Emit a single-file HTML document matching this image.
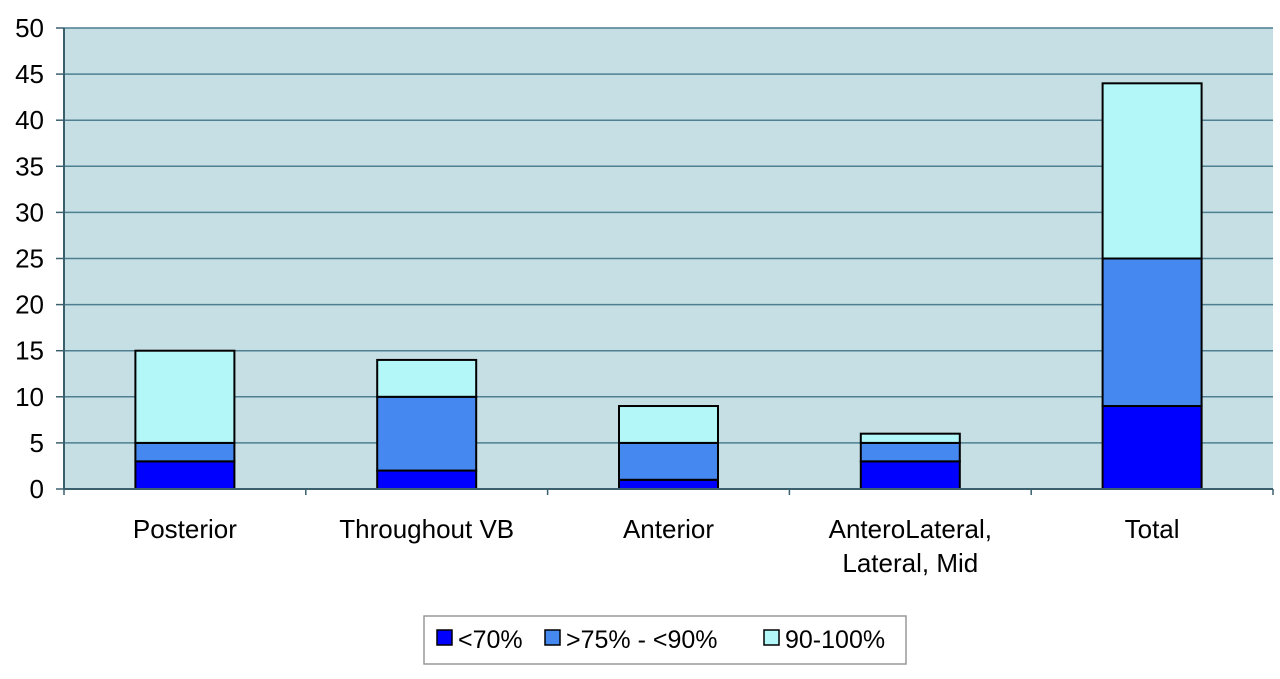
<!DOCTYPE html>
<html><head><meta charset="utf-8"><style>
body{margin:0;background:#fff;}
svg text{font-family:"Liberation Sans",sans-serif;fill:#000;}
</style></head><body>
<svg width="1280" height="674" xmlns="http://www.w3.org/2000/svg" id="chart">
<rect x="64" y="28" width="1209" height="461" fill="#c6dfe5"/>
<g id="grid"></g><g id="bars"></g><g id="axes"></g>
<g>
<rect x="424" y="616" width="482" height="48" fill="#fff" stroke="#999" stroke-width="1.5"/>
<rect x="437" y="630" width="15" height="15" fill="#0000ff" stroke="#000" stroke-width="1.5"/>
<text x="458" y="648" font-size="25">&lt;70%</text>
<rect x="545" y="630" width="15" height="15" fill="#4488f0" stroke="#000" stroke-width="1.5"/>
<text x="566" y="648" font-size="25">&gt;75% - &lt;90%</text>
<rect x="764" y="630" width="15" height="15" fill="#b3f7f9" stroke="#000" stroke-width="1.5"/>
<text x="785" y="648" font-size="25">90-100%</text>
</g>
</svg>
<script>
const categories=[["Posterior"],["Throughout VB"],["Anterior"],["AnteroLateral,","Lateral, Mid"],["Total"]];
const lt70=[3,2,1,3,9];
const mid=[2,8,4,2,16];
const high=[10,4,4,1,19];
const yTicks=[0,5,10,15,20,25,30,35,40,45,50];
const NS="http://www.w3.org/2000/svg";
const L=64,R=1273,T=28,B=489,yMax=50;
const y=v=>B-(v/yMax)*(B-T);
const band=(R-L)/categories.length;
const xc=i=>L+band*(i+0.5);
function mk(tag,attrs,parent){const e=document.createElementNS(NS,tag);for(const k in attrs)e.setAttribute(k,attrs[k]);parent.appendChild(e);return e;}
const grid=document.getElementById('grid'),bars=document.getElementById('bars'),axes=document.getElementById('axes');
yTicks.forEach(t=>{
 if(t>0){const g=mk('line',{x1:L,x2:R,y1:y(t),y2:y(t),stroke:'#4d7f90','stroke-width':1.5},grid);
 
 }
 mk('line',{x1:56,x2:L,y1:y(t),y2:y(t),stroke:'#3a5f6d','stroke-width':1.5},axes);
 const tx=mk('text',{x:44,y:y(t)+9,'font-size':26,'text-anchor':'end'},axes);tx.textContent=t;
 
 
});
const ax=mk('line',{x1:L,x2:L,y1:T,y2:B,stroke:'#3a5f6d','stroke-width':2},axes);


const bx=mk('line',{x1:L,x2:R,y1:B,y2:B,stroke:'#3a5f6d','stroke-width':2},axes);


for(let i=0;i<=categories.length;i++)mk('line',{x1:L+band*i,x2:L+band*i,y1:B,y2:B+6,stroke:'#3a5f6d','stroke-width':1.5},axes);
const series=[[lt70,'#0000ff','lt70'],[mid,'#4488f0','75-90'],[high,'#b3f7f9','90-100']];
const bw=99;
categories.forEach((c,i)=>{
 let base=0;
 series.forEach(([arr,col,nm])=>{
  const v=arr[i];
  const r=mk('rect',{x:xc(i)-bw/2,y:y(base+v),width:bw,height:y(base)-y(base+v),fill:col,stroke:'#000','stroke-width':2},bars);
  
  
  base+=v;
 });
 c.forEach((line,j)=>{
  const t=mk('text',{x:xc(i),y:538+j*34,'font-size':26,'text-anchor':'middle'},axes);t.textContent=line;
  
  
 });
});
</script>
</body></html>
